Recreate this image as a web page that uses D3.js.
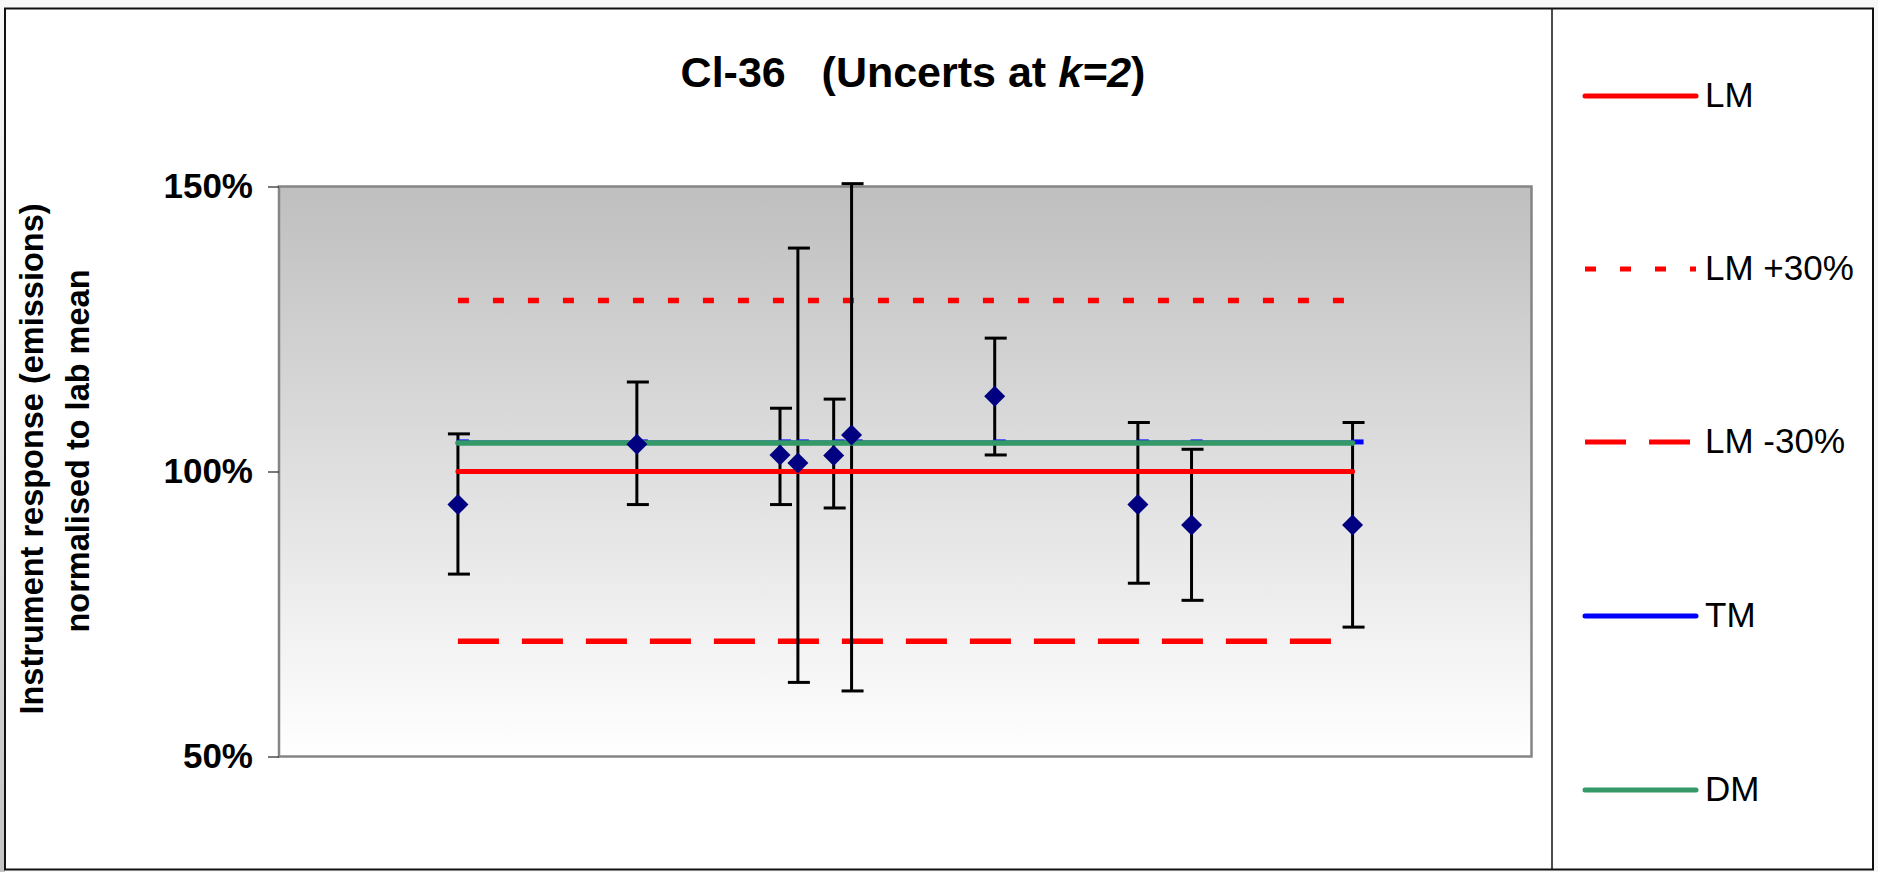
<!DOCTYPE html>
<html>
<head>
<meta charset="utf-8">
<script src="https://cdn.jsdelivr.net/npm/d3@7"></script>
<style>
  html, body { margin: 0; padding: 0; background: #f8f8f8; }
  svg { display: block; }
  text { font-family: "Liberation Sans", Arial, sans-serif; }
</style>
</head>
<body>
<svg id="chart" width="1878" height="872"></svg>
<script>
// ---- data ----
const xValues   = [5, 10, 14, 14.5, 15.5, 16, 20, 24, 25.5, 30];
const values    = [94.2, 104.8, 102.9, 101.5, 102.8, 106.4, 113.2, 94.2, 90.6, 90.6];
const errUpper  = [106.6, 115.7, 111.1, 139.2, 112.7, 150.5, 123.4, 108.6, 103.9, 108.6];
const errLower  = [82.0, 94.2, 94.2, 63.0, 93.6, 61.5, 102.9, 80.4, 77.4, 72.7];
const lmValue   = 100;
const lmPlus    = 130;
const lmMinus   = 70.2;
const tmValue   = 105.1;
const dmValue   = 105.0;
const yTicks    = [50, 100, 150];
const legendLabels = ["LM", "LM +30%", "LM -30%", "TM", "DM"];

const svg = d3.select("#chart");
const W = 1878, H = 872;

// defs
const defs = svg.append("defs");
const pg = defs.append("linearGradient").attr("id", "plotGrad").attr("x1", 0).attr("y1", 0).attr("x2", 0).attr("y2", 1);
pg.append("stop").attr("offset", "0%").attr("stop-color", "#bfbfbf");
pg.append("stop").attr("offset", "100%").attr("stop-color", "#ffffff");
const sg = defs.append("linearGradient").attr("id", "sideGrad").attr("x1", 0).attr("y1", 0).attr("x2", 0).attr("y2", 1);
sg.append("stop").attr("offset", "0%").attr("stop-color", "#f8f8f8");
sg.append("stop").attr("offset", "100%").attr("stop-color", "#c4c4c4");

// outer background + frame
svg.append("rect").attr("x", 0).attr("y", 0).attr("width", 5).attr("height", H).attr("fill", "url(#sideGrad)");
svg.append("rect").attr("x", 5).attr("y", 8.5).attr("width", 1868).attr("height", 861)
  .attr("fill", "#ffffff").attr("stroke", "#111").attr("stroke-width", 2);
svg.append("line").attr("x1", 1552).attr("x2", 1552).attr("y1", 9).attr("y2", 869)
  .attr("stroke", "#111").attr("stroke-width", 1.5);

// scales
const x = d3.scaleLinear().domain([0, 35]).range([279, 1531.5]);
const y = d3.scaleLinear().domain([50, 150]).range([756.5, 186.5]);

// plot area
svg.append("rect")
  .attr("x", x(0)).attr("y", y(150))
  .attr("width", x(35) - x(0)).attr("height", y(50) - y(150))
  .attr("fill", "url(#plotGrad)").attr("stroke", "#858585").attr("stroke-width", 2.5);

// y axis
const yAxis = svg.append("g").attr("transform", `translate(${x(0)},0)`)
  .call(d3.axisLeft(y).tickValues(yTicks).tickSize(11).tickPadding(15).tickFormat(d => d + "%"));
yAxis.select(".domain").remove();
yAxis.selectAll(".tick line").attr("stroke", "#222").attr("stroke-width", 1.2);
yAxis.selectAll(".tick text")
  .attr("font-family", "'Liberation Sans', Arial, sans-serif")
  .attr("font-size", 35).attr("font-weight", "bold").attr("fill", "#000");

// y axis title (two lines)
svg.append("text")
  .attr("transform", `translate(43,459) rotate(-90)`)
  .attr("text-anchor", "middle").attr("font-size", 32.5).attr("font-weight", "bold")
  .text("Instrument response (emissions)");
svg.append("text")
  .attr("transform", `translate(89,451) rotate(-90)`)
  .attr("text-anchor", "middle").attr("font-size", 32.5).attr("font-weight", "bold")
  .text("normalised to lab mean");

// chart title
const title = svg.append("text")
  .attr("x", 913).attr("y", 87).attr("text-anchor", "middle")
  .attr("font-size", 43).attr("font-weight", "bold")
  .style("white-space", "pre");
title.append("tspan").text("Cl-36   (Uncerts at ");
title.append("tspan").attr("font-style", "italic").text("k=2");
title.append("tspan").text(")");

const x0 = xValues[0], x1 = xValues[xValues.length - 1];

// reference lines
function hline(v, color, dash, width) {
  svg.append("line")
    .attr("x1", x(x0)).attr("x2", x(x1))
    .attr("y1", y(v)).attr("y2", y(v))
    .attr("stroke", color).attr("stroke-width", width)
    .attr("stroke-dasharray", dash)
    .attr("stroke-linecap", dash ? "butt" : "round");
}
hline(lmPlus, "#ff0000", "11,24", 5.5);
hline(lmMinus, "#ff0000", "41,23", 5.5);

// error bars
const eb = svg.append("g");
xValues.forEach((xv, i) => {
  const cx = x(xv);
  eb.append("line").attr("x1", cx).attr("x2", cx).attr("y1", y(errUpper[i])).attr("y2", y(errLower[i]))
    .attr("stroke", "#000").attr("stroke-width", 3);
  [errUpper[i], errLower[i]].forEach(v => {
    eb.append("line").attr("x1", cx - 10).attr("x2", cx + 12).attr("y1", y(v)).attr("y2", y(v))
      .attr("stroke", "#000").attr("stroke-width", 3);
  });
});

// TM (blue) line and dash markers
hline(tmValue, "#0000ff", null, 4);
svg.append("g").selectAll("rect").data(xValues).join("rect")
  .attr("x", d => x(d) - 1).attr("y", y(tmValue) - 3)
  .attr("width", 12).attr("height", 5).attr("fill", "#0000ff");

// DM (green) and LM (red)
hline(dmValue, "#339966", null, 5.5);
hline(lmValue, "#ff0000", null, 5);

// data points (diamonds)
svg.append("g").selectAll("path").data(xValues).join("path")
  .attr("transform", (d, i) => `translate(${x(d)},${y(values[i])})`)
  .attr("d", "M0,-10.5L10.5,0L0,10.5L-10.5,0Z")
  .attr("fill", "#000080");

// legend
const legendY = [96, 269, 442, 616, 790];
const legendStyle = [
  { color: "#ff0000", dash: null },
  { color: "#ff0000", dash: "11,24" },
  { color: "#ff0000", dash: "41,23" },
  { color: "#0000ff", dash: null },
  { color: "#339966", dash: null }
];
const lg = svg.append("g");
legendLabels.forEach((lab, i) => {
  lg.append("line").attr("x1", 1585).attr("x2", 1696)
    .attr("y1", legendY[i]).attr("y2", legendY[i])
    .attr("stroke", legendStyle[i].color).attr("stroke-width", 5)
    .attr("stroke-dasharray", legendStyle[i].dash)
    .attr("stroke-linecap", legendStyle[i].dash ? "butt" : "round");
  lg.append("text").attr("x", 1705).attr("y", legendY[i] + 11)
    .attr("font-size", 35).attr("fill", "#000").style("white-space", "pre").text(lab);
});
</script>
</body>
</html>
